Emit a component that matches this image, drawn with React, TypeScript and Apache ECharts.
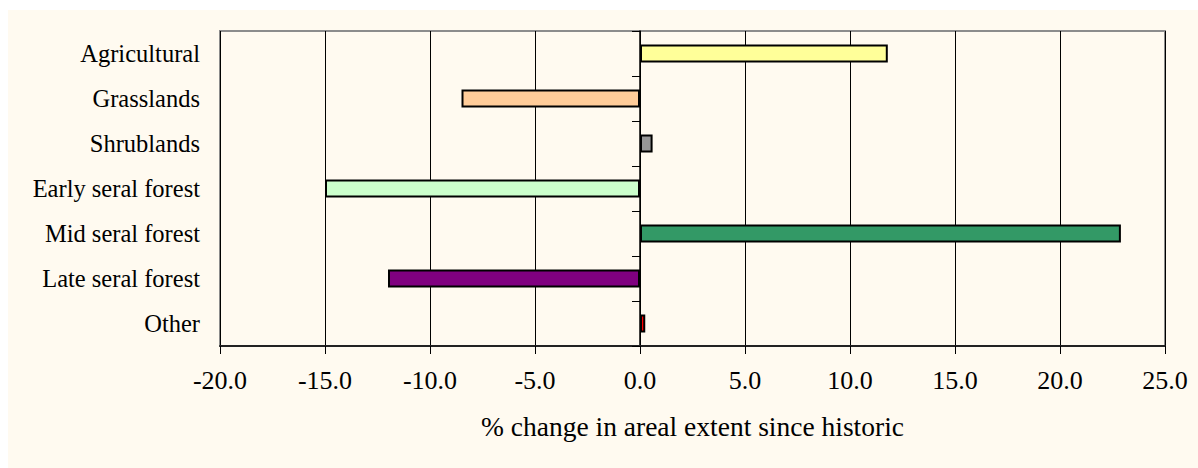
import React, { useEffect, useRef } from "react";
import * as echarts from "echarts";

const categories = [
  "Agricultural",
  "Grasslands",
  "Shrublands",
  "Early seral forest",
  "Mid seral forest",
  "Late seral forest",
  "Other",
];
const values = [11.8, -8.5, 0.6, -15.0, 22.9, -12.0, 0.25];
const barColors = ["#FFFF99", "#FFCC99", "#969696", "#CCFFCC", "#339966", "#800080", "#FF0000"];
const xTitle = "% change in areal extent since historic";
const xMin = -20;
const xMax = 25;
const xStep = 5;

const FONT = "'Liberation Serif', 'Times New Roman', serif";

export default function App() {
  const ref = useRef<HTMLDivElement>(null);
  useEffect(() => {
    if (!ref.current) return;
    const chart = echarts.init(ref.current, undefined, { renderer: "svg" });
    // ECharts category axis goes bottom-up; reverse so first category is on top
    const cats = [...categories].reverse();
    const vals = [...values].reverse();
    const cols = [...barColors].reverse();
    chart.setOption({
      animation: false,
      backgroundColor: "#FFFAF0",
      grid: {
        left: 212,
        top: 21,
        right: 33,
        bottom: 122,
        show: true,
        borderColor: "#8c8c8c",
        borderWidth: 2,
        backgroundColor: "#FFFAF0",
      },
      xAxis: {
        type: "value",
        min: xMin,
        max: xMax,
        interval: xStep,
        name: xTitle,
        nameLocation: "middle",
        nameGap: 66,
        nameTextStyle: { fontFamily: FONT, fontSize: 27.5, color: "#000" },
        axisLine: { show: true, onZero: false, lineStyle: { color: "#222", width: 2 } },
        axisTick: { show: true, length: 8, lineStyle: { color: "#000", width: 1 } },
        axisLabel: {
          fontFamily: FONT,
          fontSize: 26,
          color: "#000",
          margin: 21,
          formatter: (v: number) => v.toFixed(1),
        },
        splitLine: { show: true, lineStyle: { color: "#000", width: 1 } },
      },
      yAxis: [
        {
          type: "category",
          data: cats,
          position: "left",
          axisLine: { show: false, onZero: false },
          axisTick: { show: false },
          axisLabel: { fontFamily: FONT, fontSize: 24.5, color: "#000", margin: 20 },
          splitLine: { show: false },
        },
        {
          type: "category",
          data: cats,
          position: "left",
          axisLine: { show: true, onZero: true, lineStyle: { color: "#000", width: 1.5 } },
          axisTick: { show: true, length: 8, lineStyle: { color: "#000", width: 1 } },
          axisLabel: { show: false },
          splitLine: { show: false },
        },
      ],
      series: [
        {
          type: "bar",
          yAxisIndex: 0,
          barWidth: 18,
          data: vals.map((v, i) => ({
            value: v,
            itemStyle: { color: cols[i], borderColor: "#000", borderWidth: 2 },
          })),
        },
      ],
    });
    return () => chart.dispose();
  }, []);
  return (
    <div
      ref={ref}
      style={{ position: "absolute", left: 8, top: 10, width: 1190, height: 458 }}
    />
  );
}
